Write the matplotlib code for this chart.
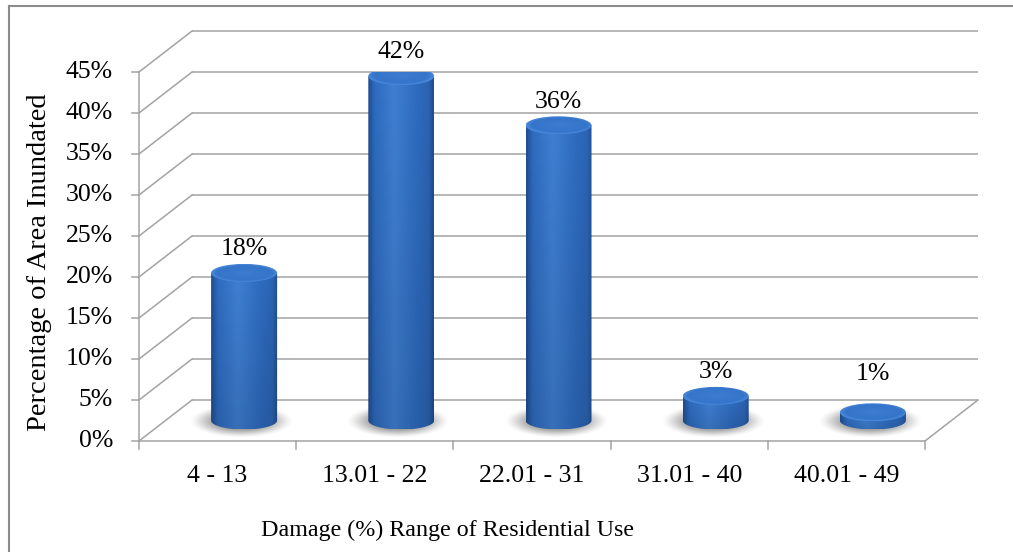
import numpy as np
import matplotlib
matplotlib.use("Agg")
import matplotlib.pyplot as plt
from matplotlib.patches import Ellipse, PathPatch
from matplotlib.path import Path
from matplotlib.colors import to_rgb

# ---- data ----
categories = ["4 - 13", "13.01 - 22", "22.01 - 31", "31.01 - 40", "40.01 - 49"]
values = [18, 42, 36, 3, 1]
yticks = [0, 5, 10, 15, 20, 25, 30, 35, 40, 45]
ytick_labels = [f"{t}%" for t in yticks]
x_title = "Damage (%) Range of Residential Use"
y_title = "Percentage of Area Inundated"

W, H, DPI = 1013, 552, 100
plt.rcParams["font.family"] = ["Liberation Serif", "DejaVu Serif"]
FS = 18.5

fig = plt.figure(figsize=(W / DPI, H / DPI), dpi=DPI)
fig.patch.set_facecolor("white")

# front plane of the 3-D box, in figure pixels
L, R, B, T = 139, 925, 441, 72
ax = fig.add_axes([L / W, (H - B) / H, (R - L) / W, (B - T) / H])
ax.set_xlim(0, len(categories))
ax.set_ylim(0, 45)
ax.axis("off")

px_x = (R - L) / len(categories)   # pixels per category
px_y = (B - T) / 45.0              # pixels per percent
DX = 53 / px_x                     # depth offset (data units)
DY = 41 / px_y

GRID = "#a3a3a3"
LW = 1.1

# back wall gridlines and left-wall diagonals
for v in yticks:
    ax.plot([DX, len(categories) + DX], [v + DY, v + DY], color=GRID, lw=LW,
            clip_on=False, zorder=1, solid_capstyle="butt")
    ax.plot([0, DX], [v, v + DY], color=GRID, lw=LW, clip_on=False, zorder=1)
# floor front edge and right diagonal
ax.plot([0, len(categories)], [0, 0], color=GRID, lw=LW, clip_on=False, zorder=1)
ax.plot([len(categories), len(categories) + DX], [0, DY], color=GRID, lw=LW,
        clip_on=False, zorder=1)
# vertical axis with ticks
ax.plot([0, 0], [0, 45], color=GRID, lw=LW, clip_on=False, zorder=1)
tick_len = 7 / px_x
for v, lab in zip(yticks, ytick_labels):
    ax.plot([-tick_len, 0], [v, v], color=GRID, lw=LW, clip_on=False, zorder=1)
    ax.text(-26 / px_x, v, lab, ha="right", va="center", fontsize=FS, zorder=5)
for i in range(len(categories) + 1):
    ax.plot([i, i], [0, -8 / px_y], color=GRID, lw=LW, clip_on=False, zorder=1)
for i, lab in enumerate(categories):
    ax.text(i + 0.5, -35 / px_y, lab, ha="center", va="center", fontsize=FS, zorder=5)

fig.text(447 / W, 1 - 530 / H, x_title, ha="center", va="center", fontsize=17.3)
fig.text(40 / W, 1 - 262 / H, y_title, ha="center", va="center", fontsize=20.5,
         rotation=90)

# outer chart frame (left and top edges)
fig.add_artist(plt.Line2D([9 / W, 9 / W], [0, 1 - 6 / H], transform=fig.transFigure,
                          color="#8c8c8c", lw=1.5))
fig.add_artist(plt.Line2D([9 / W, 1], [1 - 6 / H, 1 - 6 / H], transform=fig.transFigure,
                          color="#8c8c8c", lw=1.5))

# ---- cylinders ----
half_w = 33 / px_x        # cylinder radius (x, data units)
ry = 9 / px_y             # ellipse semi-minor (y, data units)

dark = np.array(to_rgb("#1f4c8f"))
mid = np.array(to_rgb("#2e6bbf"))
light = np.array(to_rgb("#3f7fd2"))
mid2 = np.array(to_rgb("#2b64b3"))


def body_colors(n=200):
    t = np.linspace(0, 1, n)
    stops = [(0.0, dark), (0.1, mid), (0.4, light), (0.75, mid), (0.92, mid2), (1.0, dark)]
    out = np.zeros((n, 3))
    for k in range(len(stops) - 1):
        a, ca = stops[k]
        b, cb = stops[k + 1]
        m = (t >= a) & (t <= b)
        f = (t[m] - a) / (b - a)
        out[m] = ca * (1 - f)[:, None] + cb * f[:, None]
    return out


row = body_colors()
for i, v in enumerate(values):
    cx = i + 0.5 + DX / 2
    y0 = DY / 2
    y1 = y0 + v

    # soft floor shadow around the base
    sx = cx - 3 / px_x
    sy = y0 - 1 / px_y
    gx = np.linspace(-1, 1, 200)
    gy = np.linspace(-1, 1, 100)
    GX, GY = np.meshgrid(gx, gy)
    r2 = GX ** 2 + GY ** 2
    dens = np.clip(1 - r2, 0, 1) ** 1.6
    img = np.zeros((100, 200, 4))
    img[..., :3] = 0.3
    img[..., 3] = dens * 0.85
    sw = 52 / px_x
    sh = 17 / px_y
    ax.imshow(img, extent=[sx - sw, sx + sw, sy - sh, sy + sh], origin="lower",
              interpolation="bilinear", aspect="auto", zorder=2, clip_on=False)

    # body outline: sides plus bottom half ellipse
    th = np.linspace(np.pi, 2 * np.pi, 60)
    bx = cx + half_w * np.cos(th)
    by = y0 + ry * np.sin(th)
    verts = [(cx - half_w, y1)] + list(zip(bx, by)) + [(cx + half_w, y1), (cx - half_w, y1)]
    codes = [Path.MOVETO] + [Path.LINETO] * (len(verts) - 2) + [Path.CLOSEPOLY]
    body = PathPatch(Path(verts, codes), facecolor="none", edgecolor="none",
                     zorder=3 + i * 0.1, clip_on=False)
    ax.add_patch(body)
    nyv = 60
    shade = np.linspace(0.88, 1.0, nyv)[:, None, None]
    bimg = np.clip(row[None, :, :] * shade, 0, 1)
    im = ax.imshow(bimg, extent=[cx - half_w, cx + half_w, y0 - ry, y1],
                   origin="lower", interpolation="bilinear", aspect="auto",
                   zorder=3 + i * 0.1)
    im.set_clip_path(body)

    # top cap
    cap = Ellipse((cx, y1), 2 * half_w, 2 * ry, facecolor="none", edgecolor="none",
                  zorder=3.05 + i * 0.1, clip_on=False)
    ax.add_patch(cap)
    cx_g = np.linspace(-1, 1, 120)
    cy_g = np.linspace(-1, 1, 40)
    CX, CY = np.meshgrid(cx_g, cy_g)
    rr = np.sqrt(CX ** 2 + CY ** 2)
    base = np.array(to_rgb("#3373c8"))
    hi = np.array(to_rgb("#3d7cd0"))
    rim = np.array(to_rgb("#4a89da"))
    f = np.clip(rr, 0, 1)[..., None]
    cimg = hi * (1 - f) + base * f
    edge = np.clip((rr - 0.82) / 0.18, 0, 1)[..., None]
    cimg = cimg * (1 - edge) + rim * edge
    cim = ax.imshow(np.clip(cimg, 0, 1), extent=[cx - half_w, cx + half_w, y1 - ry, y1 + ry],
                    origin="lower", interpolation="bilinear", aspect="auto",
                    zorder=3.05 + i * 0.1)
    cim.set_clip_path(cap)

    # value label
    ax.text(cx, max(v, 2.8) + DY / 2 + 2.9, f"{v}%", ha="center", va="center",
            fontsize=FS, zorder=6)

ax.set_xlim(0, len(categories))
ax.set_ylim(0, 45)
fig.savefig("out.png", dpi=DPI, facecolor="white")
